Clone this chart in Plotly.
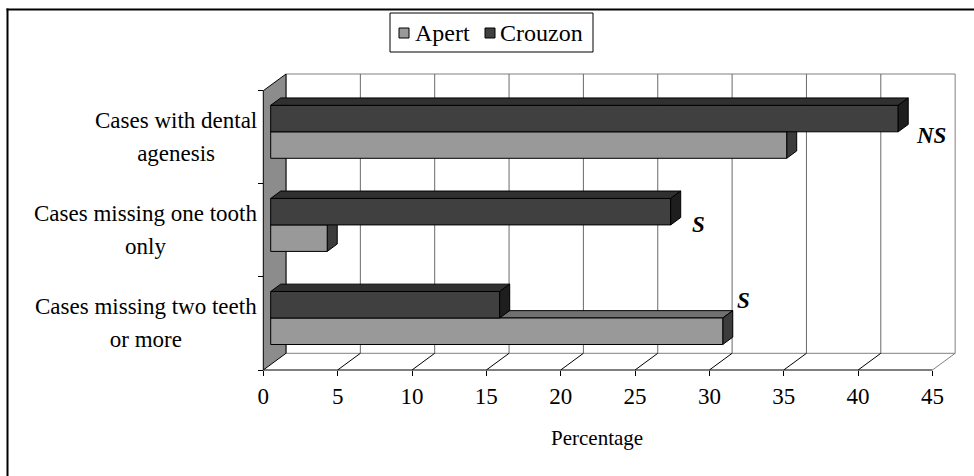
import plotly.graph_objects as go

# ---- data -------------------------------------------------------------
categories = [
    "Cases with dental<br>agenesis",
    "Cases missing one tooth<br>only",
    "Cases missing two teeth<br>or more",
]
apert = [34.7, 3.8, 30.4]
crouzon = [42.2, 26.9, 15.4]
significance = ["NS", "S", "S"]
x_ticks = [0, 5, 10, 15, 20, 25, 30, 35, 40, 45]
series_names = ["Apert", "Crouzon"]
x_title = "Percentage"

# ---- layout geometry ----------------------------------------------------
W, H = 974, 476
ML, MR, MT, MB = 256, 10, 68, 102
PW, PH = W - ML - MR, H - MT - MB

AXIS_X0_PX = 263.3      # pixel of value 0 on the front floor edge
PX_PER_UNIT = 14.87     # pixels per percent on the front plane
FLOOR_PX = 370.0        # pixel row of the front floor edge
PX_PER_CAT = 93.1       # pixels per category

X_MIN = (ML - AXIS_X0_PX) / PX_PER_UNIT
X_MAX = (W - MR - AXIS_X0_PX) / PX_PER_UNIT
Y_MIN = (FLOOR_PX - (H - MB)) / PX_PER_CAT - 0.5
Y_MAX = (FLOOR_PX - MT) / PX_PER_CAT - 0.5

# depth of the 3D box (receding up and to the right)
DX = 22.7 / PX_PER_UNIT
DY = 16.7 / PX_PER_CAT
F_FRONT, F_BACK = 0.326, 0.767     # bar slab position inside the depth
BAR_W = 26.5 / PX_PER_CAT
X_END = x_ticks[-1]
n = len(categories)
Y_LO, Y_HI = -0.5, n - 0.5

FONT = "Liberation Serif"
COLORS = {
    "Apert": {"front": "#999999", "top": "#707070", "side": "#3c3c3c"},
    "Crouzon": {"front": "#404040", "top": "#303030", "side": "#1e1e1e"},
}


def xp(px):
    return (px - ML) / PW


def yp(py):
    return (H - MB - py) / PH


def poly(points):
    return "M " + " L ".join(f"{x},{y}" for x, y in points) + " Z"


shapes = []


def add_poly(points, fill, line_color, width=1, layer="below"):
    shapes.append(dict(type="path", xref="x", yref="y", path=poly(points),
                       fillcolor=fill, line=dict(color=line_color, width=width),
                       layer=layer))


def add_line(x0, y0, x1, y1, color, width=1, layer="below"):
    shapes.append(dict(type="line", xref="x", yref="y", x0=x0, y0=y0, x1=x1, y1=y1,
                       line=dict(color=color, width=width), layer=layer))


# floor
add_poly([(0, Y_LO), (DX, Y_LO + DY), (X_END + DX, Y_LO + DY), (X_END, Y_LO)],
         "white", "rgba(0,0,0,0)", 0)
# back wall
add_poly([(DX, Y_LO + DY), (DX, Y_HI + DY), (X_END + DX, Y_HI + DY), (X_END + DX, Y_LO + DY)],
         "white", "#808080")
# back-wall gridlines and floor diagonals
for t in x_ticks[1:-1]:
    add_line(t + DX, Y_LO + DY, t + DX, Y_HI + DY, "#6a6a6a")
    add_line(t, Y_LO, t + DX, Y_LO + DY, "black")
add_line(X_END, Y_LO, X_END + DX, Y_LO + DY, "#808080")
# side wall
add_poly([(0, Y_LO), (0, Y_HI), (DX, Y_HI + DY), (DX, Y_LO + DY)], "#8c8c8c", "black")
# front floor edge
add_line(0, Y_LO, X_END, Y_LO, "black")

# ---- bars -----------------------------------------------------------------
sx0, sy0 = F_FRONT * DX, F_FRONT * DY
sx1, sy1 = F_BACK * DX, F_BACK * DY


def bar_faces(value, yc, name, layer):
    yb, yt = yc - BAR_W / 2, yc + BAR_W / 2
    c = COLORS[name]
    add_poly([(sx0, yt + sy0), (sx0 + value, yt + sy0), (sx1 + value, yt + sy1), (sx1, yt + sy1)],
             c["top"], "black", 1, layer)
    add_poly([(sx0 + value, yb + sy0), (sx0 + value, yt + sy0), (sx1 + value, yt + sy1),
              (sx1 + value, yb + sy1)], c["side"], "black", 1, layer)


fig = go.Figure()
series = {"Apert": apert, "Crouzon": crouzon}
offsets = {"Apert": -BAR_W / 2, "Crouzon": BAR_W / 2}
for name in series_names:
    vals = series[name]
    ys = [(n - 1 - k) + offsets[name] for k in range(n)]
    layer = "below" if name == "Apert" else "above"
    for v, yc in zip(vals, ys):
        bar_faces(v, yc, name, layer)
    fig.add_trace(go.Bar(
        name=name, orientation="h", x=vals, y=[yc + sy0 for yc in ys], base=sx0,
        width=BAR_W, marker=dict(color=COLORS[name]["front"], line=dict(color="black", width=1)),
        showlegend=False, hoverinfo="skip"))

annotations = []

# category labels
for k, cat in enumerate(categories):
    text = "<br>".join(f'<span style="font-size:23px">{s}</span>' for s in cat.split("<br>"))
    annotations.append(dict(text=text, xref="paper", yref="y", x=xp(259), y=n - 1 - k,
                            xanchor="right", yanchor="middle", align="center", showarrow=False,
                            font=dict(family=FONT, size=25, color="black")))

# significance marks next to each group
sig_shift = [(33, 2), (28, 6), (21, 23)]
for k, lab in enumerate(significance):
    longest = max(apert[k], crouzon[k])
    annotations.append(dict(text=f"<b><i>{lab}</i></b>", xref="x", yref="y",
                            x=sx0 + longest, y=n - 1 - k, xshift=sig_shift[k][0],
                            yshift=sig_shift[k][1], showarrow=False,
                            font=dict(family=FONT, size=23, color="black")))

# axis title
annotations.append(dict(text=x_title, xref="paper", yref="paper", x=xp(597), y=yp(438),
                        xanchor="center", yanchor="middle", showarrow=False,
                        font=dict(family=FONT, size=21, color="black")))

# legend
shapes.append(dict(type="rect", xref="paper", yref="paper", x0=xp(390), x1=xp(593),
                   y0=yp(52), y1=yp(13), line=dict(color="black", width=1),
                   fillcolor="white", layer="above"))
legend_pos = {"Apert": (399, 413), "Crouzon": (485, 498)}
for name in series_names:
    sq, tx = legend_pos[name]
    shapes.append(dict(type="rect", xref="paper", yref="paper", x0=xp(sq), x1=xp(sq + 10),
                       y0=yp(38), y1=yp(28), line=dict(color="black", width=1),
                       fillcolor=COLORS[name]["front"], layer="above"))
    annotations.append(dict(text=name, xref="paper", yref="paper", x=xp(tx), y=yp(33),
                            xanchor="left", yanchor="middle", showarrow=False,
                            font=dict(family=FONT, size=24, color="black")))

# chart border: only the top and left edges fall inside the frame
shapes.append(dict(type="line", xref="paper", yref="paper", x0=xp(6.5), x1=xp(W),
                   y0=yp(9.5), y1=yp(9.5), line=dict(color="black", width=2), layer="above"))
shapes.append(dict(type="line", xref="paper", yref="paper", x0=xp(7.5), x1=xp(7.5),
                   y0=yp(8.5), y1=yp(H), line=dict(color="black", width=2), layer="above"))

fig.update_layout(
    width=W, height=H, margin=dict(l=ML, r=MR, t=MT, b=MB, pad=0),
    paper_bgcolor="white", plot_bgcolor="white", barmode="overlay",
    shapes=shapes, annotations=annotations, showlegend=False,
    xaxis=dict(range=[X_MIN, X_MAX], tickvals=x_ticks, ticks="outside", ticklen=5,
               tickcolor="black", showgrid=False, zeroline=False, showline=False,
               anchor="free", position=yp(FLOOR_PX),
               tickfont=dict(family=FONT, size=23, color="black")),
    yaxis=dict(range=[Y_MIN, Y_MAX], tickvals=[i - 0.5 for i in range(n + 1)],
               ticks="outside", ticklen=5, tickcolor="black", showticklabels=False,
               showgrid=False, zeroline=False, showline=False,
               anchor="free", position=xp(AXIS_X0_PX)),
)

fig.write_html("out.html")
